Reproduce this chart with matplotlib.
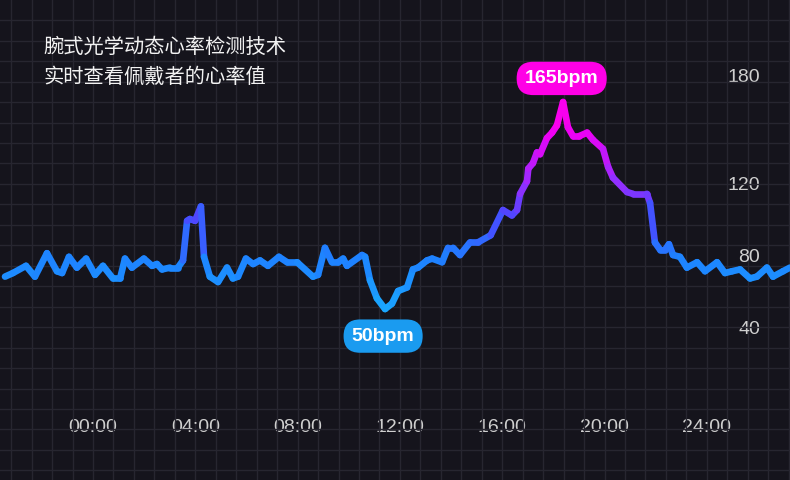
import numpy as np
import matplotlib
matplotlib.use("Agg")
import matplotlib.pyplot as plt
from matplotlib.collections import LineCollection
from matplotlib.colors import LinearSegmentedColormap, Normalize
from matplotlib.ticker import MultipleLocator, FixedLocator

# Heart rate trace (hours, bpm)
hours = [-3.44, -3.13, -2.62, -2.27, -1.80, -1.41, -1.21, -0.94, -0.63, -0.27,
         0.08, 0.39, 0.78, 1.06, 1.25, 1.52, 1.99, 2.31, 2.50, 2.70,
         3.01, 3.32, 3.52, 3.68, 3.79, 3.99, 4.22, 4.34, 4.57, 4.89,
         5.24, 5.47, 5.67, 5.98, 6.26, 6.53, 6.84, 7.27, 7.59, 7.98,
         8.60, 8.80, 9.07, 9.34, 9.58, 9.78, 9.93, 10.52, 10.64, 10.83,
         11.10, 11.42, 11.69, 11.93, 12.28, 12.51, 12.71, 13.06, 13.26, 13.65,
         13.88, 14.08, 14.35, 14.74, 15.05, 15.55, 16.03, 16.38, 16.58, 16.70,
         16.97, 17.02, 17.20, 17.36, 17.48, 17.75, 17.95, 18.14, 18.38, 18.57,
         18.77, 19.00, 19.32, 19.55, 19.94, 20.14, 20.33, 20.88, 21.11, 21.66,
         21.78, 21.97, 22.17, 22.37, 22.52, 22.68, 22.95, 23.22, 23.62, 23.93,
         24.40, 24.71, 24.99, 25.30, 25.69, 25.96, 26.35, 26.59, 26.98, 27.25]
bpm = [68, 70, 74, 68, 81, 71, 70, 79, 73, 78,
       69, 74, 67, 67, 78, 73, 78, 74, 75, 72,
       73, 73, 77, 99, 100, 99, 107, 79, 68, 65,
       73, 67, 68, 78, 75, 77, 74, 79, 76, 76,
       68, 69, 84, 76, 76, 78, 74, 80, 79, 66,
       56, 50, 53, 60, 62, 72, 73, 77, 78, 76,
       84, 84, 80, 87, 87, 91, 105, 102, 105, 114,
       121, 128, 131, 137, 136, 145, 148, 152, 165, 151,
       146, 146, 148, 144, 139, 129, 123, 115, 114, 114,
       109, 87, 83, 83, 86, 80, 79, 73, 76, 71,
       76, 70, 71, 72, 67, 68, 73, 68, 71, 73]

x_ticks = [0, 4, 8, 12, 16, 20, 24]
x_labels = ["00:00", "04:00", "08:00", "12:00", "16:00", "20:00", "24:00"]
y_ticks = [40, 80, 120, 180]

title_lines = ["腕式光学动态心率检测技术", "实时查看佩戴者的心率值"]

bg = "#15141c"
grid_c = "#272630"
label_c = "#cfcfcf"

fig = plt.figure(figsize=(7.9, 4.8), dpi=100, facecolor=bg)
ax = fig.add_axes([0, 0, 1, 1], facecolor=bg)

ax.set_xlim(-3.636, 27.253)
ax.set_ylim(-45, 221.7)

# gradient line coloured by heart rate
cmap = LinearSegmentedColormap.from_list("hr", [
    (0.0, "#1aa8ff"), (0.25, "#1e80ff"), (0.45, "#4a48ff"),
    (0.62, "#9a2cff"), (0.85, "#ee00f4"), (1.0, "#ff00ea")])
norm = Normalize(50, 165)
x = np.array(hours)
y = np.array(bpm)
pts = np.column_stack([x, y]).reshape(-1, 1, 2)
segs = np.concatenate([pts[:-1], pts[1:]], axis=1)
lc = LineCollection(segs, cmap=cmap, norm=norm, linewidths=4.8,
                    capstyle="round", joinstyle="round", zorder=3)
lc.set_array((y[:-1] + y[1:]) / 2)
ax.add_collection(lc)

# grid
ax.xaxis.set_major_locator(FixedLocator(x_ticks))
ax.xaxis.set_minor_locator(MultipleLocator(0.8))
ax.yaxis.set_major_locator(FixedLocator(y_ticks))
ax.yaxis.set_minor_locator(MultipleLocator(11.37, offset=5.82))
ax.grid(True, which="both", axis="x", color=grid_c, lw=1)
ax.grid(True, which="minor", axis="y", color=grid_c, lw=1)
ax.grid(False, which="major", axis="y")
for s in ax.spines.values():
    s.set_visible(False)

ax.set_xticklabels(x_labels)
ax.tick_params(axis="both", which="both", length=0)
ax.tick_params(axis="x", pad=-44, labelsize=14, labelcolor=label_c)
ax.tick_params(axis="y", left=False, labelleft=False, labelright=True,
               pad=-21.6, labelsize=14, labelcolor=label_c)
for lab in ax.get_xticklabels() + ax.get_yticklabels():
    lab.set_fontfamily("Liberation Sans")
for lab in ax.get_yticklabels():
    lab.set_horizontalalignment("right")

# title
ax.text(0.0545, 1 - 47 / 480, title_lines[0], transform=ax.transAxes,
        family=["Noto Sans CJK SC", "DejaVu Sans"], fontsize=14.6,
        color="#f2f2f2", va="center", ha="left")
ax.text(0.0545, 1 - 77 / 480, title_lines[1], transform=ax.transAxes,
        family=["Noto Sans CJK SC", "DejaVu Sans"], fontsize=14.6,
        color="#f2f2f2", va="center", ha="left")

# max / min pills
i_max = int(np.argmax(y))
i_min = int(np.argmin(y))
pill = "round,pad=0.42,rounding_size=0.85"
ax.annotate(f"{bpm[i_max]}bpm", (x[i_max], y[i_max]), xytext=(-1, 17),
            textcoords="offset points", ha="center", va="center",
            fontsize=14, fontweight="bold", family="Liberation Sans",
            color="white", zorder=5,
            bbox=dict(boxstyle=pill, fc="#ff00e6", ec="none"))
ax.annotate(f"{bpm[i_min]}bpm", (x[i_min], y[i_min]), xytext=(-1.4, -19.5),
            textcoords="offset points", ha="center", va="center",
            fontsize=14, fontweight="bold", family="Liberation Sans",
            color="white", zorder=5,
            bbox=dict(boxstyle=pill, fc="#1a9bf0", ec="none"))

fig.savefig("out.png", dpi=100, facecolor=bg)
